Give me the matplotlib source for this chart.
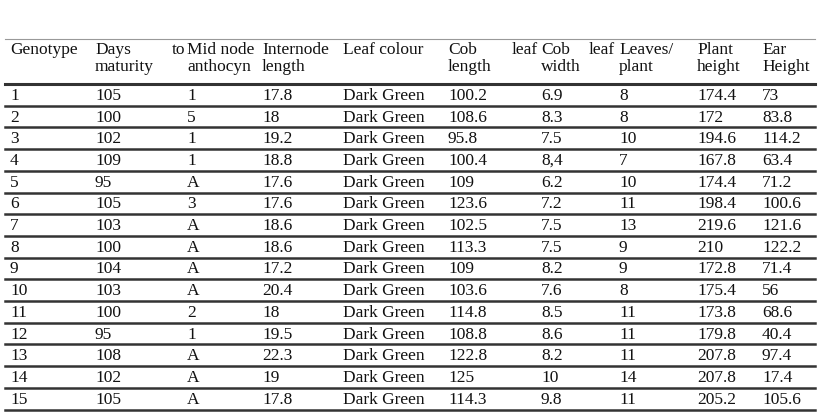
import matplotlib.pyplot as plt

genotype = [str(i) for i in range(1, 16)]
days = ["105", "100", "102", "109", "95", "105", "103", "100", "104", "103", "100", "95", "108", "102", "105"]
mid_node = ["1", "5", "1", "1", "A", "3", "A", "A", "A", "A", "2", "1", "A", "A", "A"]
internode = ["17.8", "18", "19.2", "18.8", "17.6", "17.6", "18.6", "18.6", "17.2", "20.4", "18", "19.5", "22.3", "19", "17.8"]
leaf_colour = ["Dark Green"] * 15
cob_length = ["100.2", "108.6", "95.8", "100.4", "109", "123.6", "102.5", "113.3", "109", "103.6", "114.8", "108.8", "122.8", "125", "114.3"]
cob_width = ["6.9", "8.3", "7.5", "8,4", "6.2", "7.2", "7.5", "7.5", "8.2", "7.6", "8.5", "8.6", "8.2", "10", "9.8"]
leaves = ["8", "8", "10", "7", "10", "11", "13", "9", "9", "8", "11", "11", "11", "14", "11"]
plant_height = ["174.4", "172", "194.6", "167.8", "174.4", "198.4", "219.6", "210", "172.8", "175.4", "173.8", "179.8", "207.8", "207.8", "205.2"]
ear_height = ["73", "83.8", "114.2", "63.4", "71.2", "100.6", "121.6", "122.2", "71.4", "56", "68.6", "40.4", "97.4", "17.4", "105.6"]

columns = [genotype, days, mid_node, internode, leaf_colour, cob_length,
           cob_width, leaves, plant_height, ear_height]
col_x = [10, 95, 187, 262, 343, 448, 541, 619, 697, 762]
# header: (x, text, align)
header = [
    (10, "Genotype", "left"), (95, "Days\nmaturity", "left"), (185, "to", "right"),
    (187, "Mid node\nanthocyn", "left"), (262, "Internode\nlength", "left"),
    (343, "Leaf colour", "left"), (448, "Cob\nlength", "left"), (538, "leaf", "right"),
    (541, "Cob\nwidth", "left"), (615, "leaf", "right"), (619, "Leaves/\nplant", "left"),
    (697, "Plant\nheight", "left"), (762, "Ear\nHeight", "left"),
]

font = "Liberation Serif"
fs = 12.5
fig = plt.figure(figsize=(8.2, 4.15), dpi=100)
ax = fig.add_axes([0, 0, 1, 1])
ax.set_xlim(0, 820)
ax.set_ylim(415, 0)
ax.axis("off")

ax.plot([5, 815], [39, 39], color="#999999", lw=0.8)
for x, t, ha in header:
    ax.text(x, 42, t, ha=ha, va="top", fontsize=fs, family=font, linespacing=1.05, color="#111111")

top = 84
row_h = 21.7
ax.plot([5, 815], [top, top], color="#333333", lw=2.2)
for i in range(15):
    yc = top + row_h * (i + 0.5)
    for x, col in zip(col_x, columns):
        ax.text(x, yc + 1, col[i], ha="left", va="center", fontsize=fs, family=font, color="#111111")
    yb = top + row_h * (i + 1)
    ax.plot([5, 815], [yb, yb], color="#333333", lw=1.8)

fig.savefig("out.png", dpi=100, facecolor="white")
